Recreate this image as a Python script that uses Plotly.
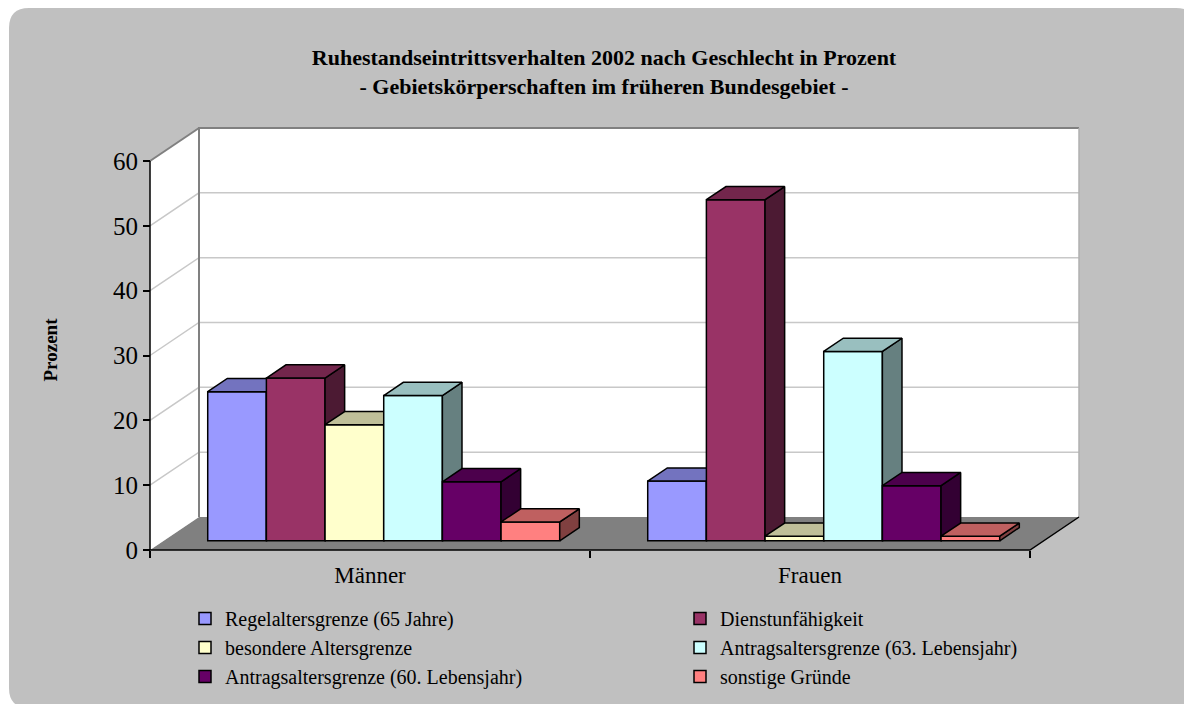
import plotly.graph_objects as go

# ---------------- data ----------------
categories = ["Männer", "Frauen"]
series_names = [
    "Regelaltersgrenze (65 Jahre)",
    "Dienstunfähigkeit",
    "besondere Altersgrenze",
    "Antragsaltersgrenze (63. Lebensjahr)",
    "Antragsaltersgrenze (60. Lebensjahr)",
    "sonstige Gründe",
]
regelaltersgrenze = [23.0, 9.2]
dienstunfaehigkeit = [25.1, 52.6]
besondere_altersgrenze = [17.9, 0.7]
antrag_63 = [22.4, 29.2]
antrag_60 = [9.1, 8.5]
sonstige = [2.9, 0.7]
y_ticks = [0, 10, 20, 30, 40, 50, 60]

series_values = [regelaltersgrenze, dienstunfaehigkeit, besondere_altersgrenze,
                 antrag_63, antrag_60, sonstige]
front_colors = ["#9999FF", "#993366", "#FFFFCC", "#CCFFFF", "#660066", "#FF8080"]

# ---------------- geometry / style ----------------
W, H = 1192, 704
OFF = 8                            # page body margin: screen px = layout px + OFF
X0_PX, X2_PX = 150 - OFF, 1030 - OFF   # front plane: category 0 start, category 2 end
Y0_PX, YMAX_PX = 550 - OFF, 161 - OFF  # front plane: value 0 and value 60
YMAX = 60
px_per_cat = (X2_PX - X0_PX) / len(categories)
px_per_val = (Y0_PX - YMAX_PX) / YMAX
xmin = -X0_PX / px_per_cat
xmax = (W - X0_PX) / px_per_cat
ymin = -(H - Y0_PX) / px_per_val
ymax = YMAX + YMAX_PX / px_per_val

DX = 49 / px_per_cat               # full floor depth (x)
DY = 33 / px_per_val               # full floor depth (y)
F0 = 0.28                          # depth fraction of bar front
FD = 0.40                          # bar depth fraction
GAP = 0.1
BW = (1 - 2 * GAP) / len(series_names)

FONT = "Liberation Serif, Times New Roman, serif"


def shade(hexcol, f):
    h = hexcol.lstrip("#")
    r, g, b = (int(h[i:i + 2], 16) for i in (0, 2, 4))
    return "#%02X%02X%02X" % (round(r * f), round(g * f), round(b * f))


def poly(pts):
    xs = [p[0] for p in pts] + [pts[0][0], None]
    ys = [p[1] for p in pts] + [pts[0][1], None]
    return xs, ys


ncat = len(categories)
fig = go.Figure()

# ---- floor ----
fx, fy = poly([(0, 0), (ncat, 0), (ncat + DX, DY), (DX, DY)])
fig.add_trace(go.Scatter(x=fx, y=fy, mode="none", fill="toself", fillcolor="#808080",
                         showlegend=False, hoverinfo="skip"))
# ---- left wall ----
lx, ly = poly([(0, 0), (DX, DY), (DX, YMAX + DY), (0, YMAX)])
fig.add_trace(go.Scatter(x=lx, y=ly, mode="none", fill="toself", fillcolor="white",
                         showlegend=False, hoverinfo="skip"))
# ---- back wall ----
bx, by = poly([(DX, DY), (ncat + DX, DY), (ncat + DX, YMAX + DY), (DX, YMAX + DY)])
fig.add_trace(go.Scatter(x=bx, y=by, mode="none", fill="toself", fillcolor="white",
                         showlegend=False, hoverinfo="skip"))
# ---- gridlines ----
gx, gy = [], []
for v in y_ticks[1:-1]:
    gx += [0, DX, ncat + DX, None]
    gy += [v, v + DY, v + DY, None]
fig.add_trace(go.Scatter(x=gx, y=gy, mode="lines", line=dict(color="#C8C8C8", width=1.5),
                         showlegend=False, hoverinfo="skip"))
# ---- wall borders ----
fig.add_trace(go.Scatter(x=[DX, DX, ncat + DX, None, 0, DX],
                         y=[DY, YMAX + DY, YMAX + DY, None, YMAX, YMAX + DY],
                         mode="lines", line=dict(color="#808080", width=2),
                         showlegend=False, hoverinfo="skip"))
fig.add_trace(go.Scatter(x=[ncat + DX, ncat + DX], y=[DY, YMAX + DY],
                         mode="lines", line=dict(color="#B0B0B0", width=1.5),
                         showlegend=False, hoverinfo="skip"))
# ---- axis lines / floor edge ----
fig.add_trace(go.Scatter(x=[0, 0, ncat, ncat + DX], y=[YMAX, 0, 0, DY],
                         mode="lines", line=dict(color="black", width=1.5),
                         showlegend=False, hoverinfo="skip"))

# ---- bars, one overlaid subplot per series (painter order left to right) ----
for j, (name, vals, col) in enumerate(zip(series_names, series_values, front_colors)):
    k = j + 2
    xa, ya = "x%d" % k, "y%d" % k
    xs_front = []
    sx, sy, tx, ty = [], [], [], []
    for i, v in enumerate(vals):
        xl = i + GAP + j * BW + F0 * DX
        yb = F0 * DY
        yt = yb + v
        xs_front.append(xl + BW / 2)
        px_, py_ = poly([(xl + BW, yb), (xl + BW, yt), (xl + BW + FD * DX, yt + FD * DY),
                         (xl + BW + FD * DX, yb + FD * DY)])
        sx += px_; sy += py_
        px_, py_ = poly([(xl, yt), (xl + BW, yt), (xl + BW + FD * DX, yt + FD * DY),
                         (xl + FD * DX, yt + FD * DY)])
        tx += px_; ty += py_
    fig.add_trace(go.Bar(x=xs_front, y=vals, base=F0 * DY, width=BW, name=name,
                         marker=dict(color=col, line=dict(color="black", width=1.5)),
                         xaxis=xa, yaxis=ya))
    fig.add_trace(go.Scatter(x=sx, y=sy, mode="lines", fill="toself",
                             fillcolor=shade(col, 0.5), line=dict(color="black", width=1.5),
                             showlegend=False, hoverinfo="skip", xaxis=xa, yaxis=ya))
    fig.add_trace(go.Scatter(x=tx, y=ty, mode="lines", fill="toself",
                             fillcolor=shade(col, 0.75), line=dict(color="black", width=1.5),
                             showlegend=False, hoverinfo="skip", xaxis=xa, yaxis=ya))

# ---------------- layout ----------------
layout = dict(
    width=W, height=H,
    margin=dict(l=0, r=0, t=0, b=0, pad=0, autoexpand=False),
    paper_bgcolor="white",
    plot_bgcolor="rgba(0,0,0,0)",
    barmode="overlay",
    font=dict(family=FONT, color="black"),
    title=dict(
        text="<b>Ruhestandseintrittsverhalten 2002 nach Geschlecht in Prozent</b><br>"
             "<b>- Gebietskörperschaften im früheren Bundesgebiet -</b>",
        x=(604 - OFF) / W, xanchor="center", y=1 - 57 / H, yanchor="top",
        font=dict(family=FONT, size=22, color="black"),
    ),
    xaxis=dict(range=[xmin, xmax], anchor="free", position=(H - Y0_PX) / H,
               tickmode="array", tickvals=[i + 0.5 for i in range(ncat)], ticktext=categories,
               ticks="", showgrid=False, zeroline=False, showline=False, automargin=False,
               ticklabelstandoff=9,
               tickfont=dict(family=FONT, size=23, color="black"),
               minor=dict(tickmode="array", tickvals=list(range(ncat + 1)), ticks="outside",
                          ticklen=7, tickwidth=1.5, tickcolor="black", showgrid=False)),
    yaxis=dict(range=[ymin, ymax], anchor="free", position=X0_PX / W, side="left",
               tickmode="array", tickvals=y_ticks, ticks="outside", ticklen=7,
               tickwidth=1.5, tickcolor="black", showgrid=False, zeroline=False,
               showline=False, automargin=False,
               tickfont=dict(family=FONT, size=25, color="black")),
    legend=dict(orientation="h", x=(185 - OFF) / W, xanchor="left", y=1 - 591 / H,
                yanchor="top",
                entrywidth=450, entrywidthmode="pixels", bgcolor="rgba(0,0,0,0)",
                font=dict(family=FONT, size=20, color="black"), traceorder="normal",
                tracegroupgap=0),
    annotations=[dict(text="<b>Prozent</b>", x=29 / W, y=1 - (350 - OFF) / H, xref="paper",
                      yref="paper", textangle=-90, showarrow=False,
                      font=dict(family=FONT, size=19, color="black"))],
)
for j in range(len(series_names)):
    k = j + 2
    layout["xaxis%d" % k] = dict(range=[xmin, xmax], overlaying="x", anchor="y%d" % k,
                                 visible=False, showgrid=False, zeroline=False)
    layout["yaxis%d" % k] = dict(range=[ymin, ymax], overlaying="y", anchor="x%d" % k,
                                 visible=False, showgrid=False, zeroline=False)

# rounded grey background panel
l, t, r, b, rad = 9 - OFF, 8 - OFF, 1196 - OFF, 708 - OFF, 20
def P(x, y):
    return "%.5f,%.5f" % (x / W, 1 - y / H)
path = ("M %s L %s Q %s %s L %s Q %s %s L %s Q %s %s L %s Q %s %s Z" % (
    P(l + rad, t), P(r - rad, t), P(r, t), P(r, t + rad), P(r, b - rad), P(r, b), P(r - rad, b),
    P(l + rad, b), P(l, b), P(l, b - rad), P(l, t + rad), P(l, t), P(l + rad, t)))
layout["shapes"] = [dict(type="path", path=path, xref="paper", yref="paper",
                         fillcolor="#C0C0C0", line=dict(width=0), layer="below")]

fig.update_layout(**layout)
fig.write_html("out.html")
